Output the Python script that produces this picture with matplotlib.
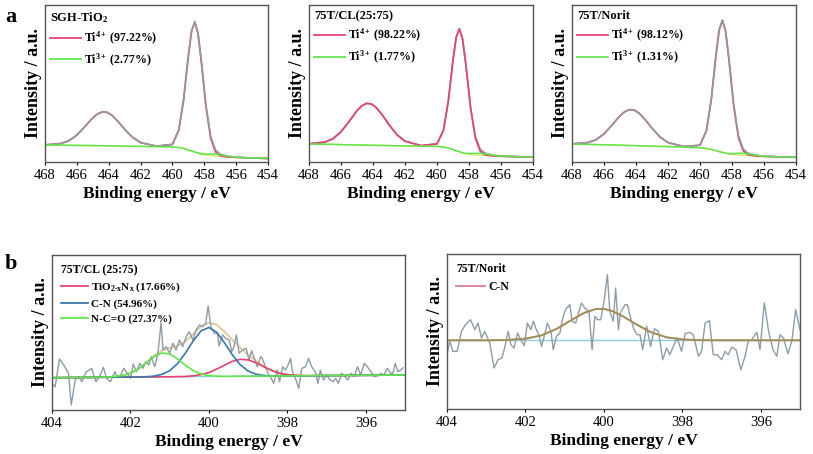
import numpy as np
import matplotlib
matplotlib.use("Agg")
import matplotlib.pyplot as plt
from matplotlib.lines import Line2D

plt.rcParams['font.family'] = ['Liberation Serif', 'DejaVu Serif']
plt.rcParams['mathtext.fontset'] = 'custom'
plt.rcParams['mathtext.rm'] = 'Liberation Serif'
plt.rcParams['mathtext.bf'] = 'Liberation Serif:bold'
plt.rcParams['mathtext.default'] = 'bf'

# ---- Ti 2p (panel a) ----
ti_be = [468, 467, 466.5, 466, 465.5, 465, 464.7, 464.4, 464.1, 463.8, 463.4, 463, 462.5, 462, 461,
         460, 459.6, 459.3, 459.0, 458.8, 458.6, 458.4, 458.2, 457.9, 457.6, 457.3, 457, 456.5, 456, 455, 454]

bg_a = [
    [17, 16.8, 16.7, 16.6, 16.5, 16.4, 16.3, 16.2, 16.1, 16, 15.9, 15.8, 15.7, 15.6, 15.4,
     15, 14.5, 13.5, 12, 11, 10, 9, 8, 7, 6.3, 5.8, 5.5, 5, 4.6, 4, 3.5],
    [18, 17.8, 17.6, 17.4, 17.2, 17, 16.9, 16.8, 16.7, 16.6, 16.5, 16.4, 16.2, 16.1, 15.9,
     15.6, 15, 14, 12.5, 11.3, 10.2, 9.2, 8.3, 7.4, 6.9, 6.6, 6.4, 6, 5.7, 5.3, 5],
    [18, 17.6, 17.4, 17.2, 17, 16.8, 16.6, 16.5, 16.4, 16.2, 16, 15.8, 15.6, 15.4, 15,
     14.2, 13.5, 12.5, 11.3, 10.4, 9.6, 8.8, 8.1, 7.4, 7, 6.7, 6.4, 6, 5.6, 5.1, 4.7],
]
# Ti 2p1/2 component (~464.4 eV)
p12_a = [
    [0.1, 1.7, 4.6, 10.3, 18.8, 27.8, 31.8, 33.9, 33.5, 30.7, 24.3, 16.9, 8.9, 3.8, 0.4,
     0, 0, 0, 0, 0, 0, 0, 0, 0, 0, 0, 0, 0, 0, 0, 0],
    [0.2, 2.1, 5.7, 12.8, 23.2, 34.4, 39.3, 41.8, 41.3, 37.9, 30.1, 20.9, 11.0, 4.7, 0.5,
     0, 0, 0, 0, 0, 0, 0, 0, 0, 0, 0, 0, 0, 0, 0, 0],
    [0.1, 1.8, 4.9, 10.9, 19.9, 29.4, 33.7, 35.9, 35.4, 32.5, 25.8, 17.9, 9.4, 4.0, 0.4,
     0, 0, 0, 0, 0, 0, 0, 0, 0, 0, 0, 0, 0, 0, 0, 0],
]
# Ti 2p3/2 component (~458.6 eV)
p32_a = [
    [0, 0, 0, 0, 0, 0, 0, 0, 0, 0, 0, 0, 0, 0, 0,
     2.6, 17.6, 48.8, 94.4, 120, 130, 120, 94.4, 48.8, 17.6, 4.4, 0.8, 0, 0, 0, 0],
    [0, 0, 0, 0, 0, 0, 0, 0, 0, 0, 0, 0, 0, 0, 0,
     2.5, 16.6, 46.1, 89.3, 113.5, 123, 113.5, 89.3, 46.1, 16.6, 4.2, 0.7, 0, 0, 0, 0],
    [0, 0, 0, 0, 0, 0, 0, 0, 0, 0, 0, 0, 0, 0, 0,
     2.6, 17.8, 49.5, 95.8, 121.8, 132, 121.8, 95.8, 49.5, 17.8, 4.5, 0.8, 0, 0, 0, 0],
]
ti3_peak = [0, 0, 0, 0, 0, 0, 0, 0, 0, 0, 0, 0, 0, 0, 0,
            0, 0, 0, 0, 0, 0, 0, 0.3, 1.0, 1.8, 2.0, 1.7, 0.8, 0.2, 0, 0]

a_titles = ['SGH-TiO$_2$', '75T/CL(25:75)', '75T/Norit']
ti4_pct = ['97.22%', '98.22%', '98.12%']
ti3_pct = ['2.77%', '1.77%', '1.31%']

# ---- N 1s (panel b) ----
cl_be = [404.00, 403.92, 403.81, 403.70, 403.58, 403.51, 403.41, 403.32, 403.24, 403.13, 403.05, 402.99,
         402.88, 402.78, 402.69, 402.61, 402.51, 402.40, 402.34, 402.25, 402.17, 402.08, 402.00, 401.93,
         401.85, 401.76, 401.68, 401.61, 401.53, 401.47, 401.38, 401.30, 401.22, 401.17, 401.09, 401.00,
         400.92, 400.84, 400.75, 400.67, 400.58, 400.50, 400.41, 400.33, 400.24, 400.16, 400.08, 400.02,
         399.95, 399.86, 399.78, 399.74, 399.65, 399.57, 399.48, 399.42, 399.36, 399.30, 399.23, 399.15,
         399.05, 398.98, 398.91, 398.83, 398.77, 398.68, 398.64, 398.56, 398.47, 398.41, 398.35, 398.26,
         398.20, 398.12, 398.05, 397.98, 397.92, 397.87, 397.78, 397.71, 397.63, 397.54, 397.46, 397.38,
         397.29, 397.22, 397.16, 397.08, 397.00, 396.91, 396.83, 396.77, 396.70, 396.62, 396.53, 396.46,
         396.38, 396.30, 396.21, 396.13, 396.04, 395.96, 395.87, 395.79, 395.71, 395.62, 395.54, 395.45,
         395.37, 395.31, 395.25, 395.18, 395.11, 395.05]
cl_raw = [26.7, 23.3, 51, 45, 36.7, 5, 30, 33.3, 28.3, 38.3, 40, 41.7,
          28.3, 34, 42.7, 31.7, 28.3, 38.3, 33.3, 35, 41.7, 36.7, 31.7, 46,
          38.3, 46.7, 41.7, 48.3, 45, 53.3, 43.3, 56.7, 87.3, 60, 63.3, 56.7,
          66.7, 60, 70, 63.3, 73.3, 78.3, 70, 80, 85, 83.3, 86.7, 104,
          83.3, 76.7, 76.7, 64, 75, 71.7, 70, 58.3, 63.3, 75, 56.7, 60,
          61.7, 50, 59.3, 50, 43.3, 53.3, 51.7, 43.3, 35, 31.7, 26.7, 40,
          28.3, 43.3, 40, 45, 51.7, 38.3, 30, 21.7, 41.7, 43.3, 51.7, 43.3,
          38.3, 26.7, 40, 30, 35, 30, 28.3, 31.7, 26.7, 36.7, 33.3, 30,
          36.7, 33.3, 43.3, 35, 46.7, 43.3, 38.3, 33.3, 34, 36.7, 35, 41.7,
          36.7, 36.7, 46.7, 38.3, 40, 42.3]

cl_fit_be = [404, 403, 402.5, 402.2, 402.0, 401.8, 401.6, 401.4, 401.2, 401.0, 400.8, 400.6, 400.4, 400.2,
             400.0, 399.8, 399.6, 399.4, 399.2, 399.0, 398.8, 398.6, 398.4, 398.2, 398.0, 397.6, 397, 396, 395]
cl_bg = [32.3, 32.6, 32.8, 32.9, 32.9, 33.0, 33.1, 33.1, 33.2, 33.2, 33.3, 33.3, 33.4, 33.5,
         33.5, 33.6, 33.6, 33.7, 33.8, 33.8, 33.9, 33.9, 34.0, 34.0, 34.1, 34.2, 34.4, 34.7, 35.0]
cl_tion = [0, 0, 0, 0, 0, 0, 0, 0, 0, 0, 0.1, 0.25, 0.75, 1.9,
           4.0, 7.3, 11.3, 15.0, 16.9, 16.3, 13.3, 9.3, 5.5, 2.8, 1.2, 0.1, 0, 0, 0]
cl_cn = [0, 0, 0, 0, 0, 0, 0.2, 0.8, 2.4, 6.1, 13.1, 23.6, 35.8, 45.7,
         49, 44.1, 33.4, 21.3, 11.4, 5.1, 1.9, 0.6, 0.2, 0, 0, 0, 0, 0, 0]
cl_nco = [0, 0, 0.3, 1.6, 3.9, 8.0, 14.0, 20.3, 23.8, 22.8, 17.8, 11.5, 6.0, 2.5,
          0.9, 0.2, 0, 0, 0, 0, 0, 0, 0, 0, 0, 0, 0, 0, 0]

no_be = [404.00, 403.93, 403.85, 403.74, 403.63, 403.53, 403.40, 403.29, 403.21, 403.12, 403.04, 402.91,
         402.80, 402.70, 402.60, 402.53, 402.44, 402.37, 402.29, 402.20, 402.12, 402.03, 401.95, 401.86,
         401.80, 401.72, 401.66, 401.59, 401.51, 401.44, 401.35, 401.29, 401.21, 401.12, 401.06, 400.98,
         400.87, 400.81, 400.72, 400.66, 400.57, 400.49, 400.38, 400.30, 400.23, 400.16, 400.08, 399.99,
         399.91, 399.85, 399.76, 399.70, 399.63, 399.58, 399.46, 399.40, 399.32, 399.23, 399.15, 399.08,
         399.01, 398.91, 398.81, 398.71, 398.61, 398.50, 398.40, 398.32, 398.23, 398.13, 398.02, 397.93,
         397.82, 397.72, 397.59, 397.51, 397.42, 397.31, 397.21, 397.11, 397.00, 396.91, 396.83, 396.74,
         396.63, 396.51, 396.40, 396.32, 396.23, 396.19, 396.10, 396.02, 395.91, 395.80, 395.69, 395.59,
         395.51, 395.42, 395.31, 395.21, 395.11, 395.00]
no_raw = [54.3, 67.7, 57.7, 57.7, 77.7, 84.3, 89.3, 79.3, 86, 71, 77.7, 66,
          41, 49.3, 51, 61, 77.7, 64.3, 61, 76, 69.3, 63.3, 86, 79.3,
          87.7, 79.3, 74.3, 62.7, 74.3, 86, 77.7, 59.3, 72.7, 76, 89.3, 99.3,
          104.3, 87.7, 86, 94.3, 106, 101, 97.7, 59.3, 92.7, 89.3, 89.3, 109.3,
          134.3, 97.7, 87.7, 121, 79.3, 96, 104.3, 104.3, 91, 79.3, 74.3, 74.3,
          59.3, 82.7, 62.7, 80.3, 77.7, 49.3, 61, 54.3, 62.7, 71, 57.7, 75.3,
          76.7, 74.3, 52.7, 57.7, 86, 88.3, 54.3, 54.3, 49.3, 57.7, 54.3, 62,
          59.3, 39.3, 52.7, 67.7, 69.3, 72, 76.7, 59.3, 106, 77.7, 59.3, 52.7,
          74.3, 71, 55.3, 67.7, 99.3, 79.3]

no_fit_be = [404, 403, 402.5, 402, 401.6, 401.2, 400.8, 400.5, 400.2, 400.0, 399.8, 399.5, 399.2,
             398.8, 398.4, 398, 397.5, 397, 396, 395]
no_bg = [68.7] * len(no_fit_be)
no_cn = [0, 0, 0.3, 1.6, 4.8, 11.5, 20.9, 27.5, 31.3, 31.4, 29.5, 23.7, 16.5,
         8.1, 3.0, 0.9, 0.1, 0, 0, 0]

GREY = '#8d9ca6'
RED = '#e6436f'
GREEN = '#5fe64b'
BLUE = '#3b78ad'
TAN = '#e2c796'
LBLUE = '#8fcbe3'

fig = plt.figure(figsize=(8.13, 4.54), dpi=100)

a_pos = [[0.0554, 0.6432, 0.2743, 0.3458],
         [0.3801, 0.6432, 0.2755, 0.3458],
         [0.7036, 0.6432, 0.2755, 0.3458]]


def style_axes(ax, fs_tick):
    ax.set_yticks([])
    ax.tick_params(axis='x', labelsize=fs_tick, length=2, width=0.8, pad=3)
    for s in ax.spines.values():
        s.set_color('#555555')
        s.set_linewidth(1.0)
    ax.set_ylabel('Intensity / a.u.', fontsize=13, fontweight='bold', labelpad=2)
    ax.set_xlabel('Binding energy / eV', fontsize=12.5, fontweight='bold', labelpad=3)


for i in range(3):
    ax = fig.add_axes(a_pos[i])
    bg = np.array(bg_a[i])
    ti4 = bg + np.array(p12_a[i]) + np.array(p32_a[i])
    ti3 = bg + np.array(ti3_peak)
    data = ti4 + np.array(ti3_peak)
    ax.plot(ti_be, bg, color='#d8e86a', lw=1.0)
    if i == 1:
        ax.plot(ti_be, data, color=GREY, lw=1.3)
        ax.plot(ti_be, ti4, color=RED, lw=1.2)
    else:
        ax.plot(ti_be, ti4, color=RED, lw=1.3)
        ax.plot(ti_be, data, color=GREY, lw=1.1)
    ax.plot(ti_be, ti3, color=GREEN, lw=1.1)
    ax.set_xlim(468, 454)
    ax.set_ylim(0, 157)
    ax.set_xticks([468, 466, 464, 462, 460, 458, 456, 454])
    style_axes(ax, 10.5)
    h = [Line2D([], [], color=RED, lw=1.3), Line2D([], [], color=GREEN, lw=1.3)]
    lab = ['Ti$^{4+}$\u2009(%s)' % ti4_pct[i], 'Ti$^{3+}$\u2009(%s)' % ti3_pct[i]]
    ax.legend(h, lab, title=a_titles[i], loc='upper left', frameon=False,
              title_fontproperties={'size': 9, 'weight': 'bold'},
              prop={'size': 8.5, 'weight': 'bold'}, handlelength=2.6, handletextpad=0.25,
              labelspacing=0.4, borderaxespad=0.2, borderpad=0.25, alignment='left')

# N 1s, 75T/CL
ax = fig.add_axes([0.064, 0.0969, 0.4342, 0.3414])
bg = np.array(cl_bg)
tion = bg + np.array(cl_tion)
cn = bg + np.array(cl_cn)
nco = bg + np.array(cl_nco)
env = bg + np.array(cl_tion) + np.array(cl_cn) + np.array(cl_nco)
ax.plot(cl_fit_be, bg, color=LBLUE, lw=1.0)
ax.plot(cl_fit_be, env, color=TAN, lw=1.3)
ax.plot(cl_be, cl_raw, color=GREY, lw=1.0)
ax.plot(cl_fit_be, tion, color=RED, lw=1.2)
ax.plot(cl_fit_be, cn, color=BLUE, lw=1.2)
ax.plot(cl_fit_be, nco, color=GREEN, lw=1.2)
ax.set_xlim(404, 395)
ax.set_ylim(0, 155)
ax.set_xticks([404, 402, 400, 398, 396])
style_axes(ax, 10.5)
h = [Line2D([], [], color=RED, lw=1.3), Line2D([], [], color=BLUE, lw=1.3),
     Line2D([], [], color=GREEN, lw=1.3)]
lab = ['TiO$_{2\u2010x}$N$_x$ (17.66%)', 'C-N (54.96%)', 'N-C=O (27.37%)']
ax.legend(h, lab, title='75T/CL (25:75)', loc='upper left', frameon=False,
          title_fontproperties={'size': 8.5, 'weight': 'bold'},
          prop={'size': 8, 'weight': 'bold'}, handlelength=2.4, handletextpad=0.3,
          labelspacing=0.45, borderaxespad=0.2, borderpad=0.6, alignment='left')

# N 1s, 75T/Norit
ax = fig.add_axes([0.5498, 0.0991, 0.4342, 0.3414])
bg = np.array(no_bg)
cn = bg + np.array(no_cn)
ax.plot(no_fit_be, bg, color=LBLUE, lw=1.0)
ax.plot(no_be, no_raw, color=GREY, lw=1.0)
ax.plot(no_fit_be, cn, color='#e27a96', lw=1.4)
ax.plot(no_fit_be, cn, color='#8f9a4c', lw=1.1)
ax.set_xlim(404, 395)
ax.set_ylim(0, 155)
ax.set_xticks([404, 402, 400, 398, 396])
style_axes(ax, 10.5)
ax.legend([Line2D([], [], color='#e27a96', lw=1.3)], ['C-N'], title='75T/Norit', loc='upper left',
          frameon=False, title_fontproperties={'size': 8.5, 'weight': 'bold'},
          prop={'size': 8.5, 'weight': 'bold'}, handlelength=2.4, handletextpad=0.3,
          labelspacing=0.45, borderaxespad=0.2, borderpad=0.6, alignment='left')

fig.text(0.006, 0.985, 'a', fontsize=16, fontweight='bold', va='top')
fig.text(0.006, 0.44, 'b', fontsize=16, fontweight='bold', va='top')

fig.savefig('out.png', dpi=100)
